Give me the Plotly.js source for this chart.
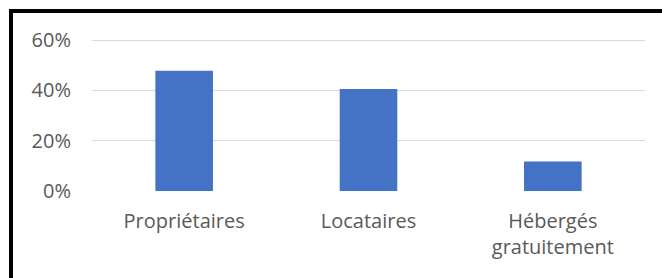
<!DOCTYPE html>
<html>
<head>
<meta charset="utf-8">
<script src="https://cdn.plot.ly/plotly-3.0.1.min.js"></script>
<style>
  html, body { margin: 0; padding: 0; background: #ffffff; overflow: hidden; }
  #wrap { position: relative; width: 662px; height: 278px; }
  #chart { position: absolute; left: 0; top: 0; width: 662px; height: 278px; }
  #frame { position: absolute; left: 9px; top: 9px; width: 700px; height: 300px;
           border-top: 4px solid #000; border-left: 4px solid #000; pointer-events: none; }
</style>
</head>
<body>
<div id="wrap">
  <div id="chart"></div>
  <div id="frame"></div>
</div>
<script>
const categories = ["Propriétaires", "Locataires", "Hébergés<br>gratuitement"];
const shares = [0.478, 0.405, 0.117];
const yTickValues = [0, 0.2, 0.4, 0.6];
const yTickLabels = ["0%", "20%", "40%", "60%"];

const trace = {
  type: "bar",
  x: categories,
  y: shares,
  marker: { color: "#4472C4" },
  hoverinfo: "none"
};

// plot area spans y 38..191 (153 px); 60% sits at y=40 (151 px above 0%)
const yTop = 0.6 * 153 / 151;

const layout = {
  width: 662,
  height: 278,
  margin: { l: 92, r: 17, t: 38, b: 87, pad: 0 },
  paper_bgcolor: "#ffffff",
  plot_bgcolor: "#ffffff",
  showlegend: false,
  bargap: 0.6875,
  font: { family: "'Open Sans', sans-serif", size: 20, color: "#595959" },
  xaxis: {
    type: "category",
    showgrid: false,
    showline: false,
    zeroline: false,
    ticks: "",
    ticklabelstandoff: 16,
    tickfont: { family: "'Open Sans', sans-serif", size: 20, color: "#595959" }
  },
  yaxis: {
    range: [0, yTop],
    tickvals: yTickValues,
    ticktext: yTickLabels,
    showgrid: true,
    gridcolor: "#d9d9d9",
    gridwidth: 1,
    zeroline: false,
    showline: false,
    ticks: "",
    ticklabelstandoff: 20,
    tickfont: { family: "'Open Sans', sans-serif", size: 20, color: "#595959" }
  }
};

Plotly.newPlot("chart", [trace], layout, { displayModeBar: false, staticPlot: true });
</script>
</body>
</html>
